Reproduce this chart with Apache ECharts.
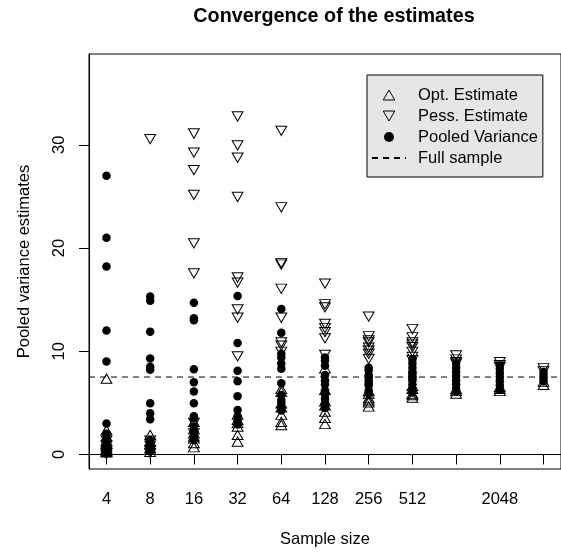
<!DOCTYPE html>
<html>
<head>
    <meta charset="utf-8">
    <script src="https://cdn.jsdelivr.net/npm/echarts@6/dist/echarts.min.js"></script>
</head>
<body style="margin: 0">
    <div id="container" style="width: 561px; height: 553px"></div>
    <script>
        // sample sizes (x axis is log2 of these)
        var sampleSizes = [4, 8, 16, 32, 64, 128, 256, 512, 1024, 2048, 4096];
        var tickLabels = ['4', '8', '16', '32', '64', '128', '256', '512', '', '2048', ''];

        // estimates per sample size
        var optEst = [
            [7.2, 2.2, 1.6, 1.2, 0.9, 0.6, 0.4, 0.3, 0.2, 0.1, 0.05],
            [1.75, 1.1, 0.8, 0.5, 0.3, 0.1],
            [3.0, 2.3, 1.9, 1.6, 1.4, 0.95, 0.55],
            [3.7, 3.2, 2.9, 2.55, 1.75, 1.1],
            [6.2, 5.9, 4.8, 4.4, 3.7, 3.0, 2.7],
            [8.2, 6.1, 5.0, 4.6, 4.0, 3.4, 2.8],
            [6.0, 5.75, 5.3, 5.1, 4.9, 4.5],
            [6.5, 6.2, 5.75, 5.6, 5.35],
            [6.2, 6.0, 5.75],
            [6.4, 6.2, 6.0],
            [6.9, 6.6]
        ];
        var pessEst = [
            [1.5, 1.0, 0.5, 0.3, 0.2],
            [30.7, 1.5, 1.0, 0.6, 0.3],
            [31.25, 29.4, 27.7, 25.3, 20.6, 17.7, 3.2, 2.2],
            [32.9, 30.1, 28.9, 25.1, 17.3, 16.8, 14.2, 13.4, 9.65],
            [31.5, 24.1, 18.7, 18.55, 16.2, 13.4, 11.0, 10.7, 10.1],
            [16.7, 14.7, 14.4, 12.8, 12.4, 12.0, 11.4, 9.8],
            [13.5, 11.6, 11.2, 11.0, 10.5, 10.2, 9.9, 9.4],
            [12.3, 11.5, 11.0, 10.8, 10.55, 10.1, 9.6, 9.3],
            [9.75, 9.35, 9.1, 8.95],
            [9.1, 8.8, 8.6],
            [8.5, 8.2]
        ];
        var pooledVar = [
            [27.0, 21.0, 18.2, 12.0, 9.0, 3.0, 2.0, 1.7, 1.4, 1.1, 0.9, 0.7, 0.5, 0.3, 0.1],
            [15.3, 14.9, 11.9, 9.3, 8.5, 8.2, 4.95, 4.0, 3.4, 1.4, 1.0, 0.7, 0.4],
            [14.7, 13.2, 13.0, 8.25, 7.0, 6.1, 4.95, 3.7, 3.5, 2.7, 2.2, 1.8, 1.4],
            [15.35, 10.8, 8.1, 7.1, 5.65, 4.3, 3.7, 3.35, 2.9],
            [14.1, 11.8, 9.75, 9.4, 8.8, 8.3, 6.9, 5.75, 5.3, 5.0, 4.6, 4.25],
            [9.4, 9.1, 8.6, 7.7, 7.2, 6.8, 6.2, 5.8, 5.4, 4.95, 4.5],
            [8.4, 8.15, 7.7, 7.5, 7.2, 6.9, 6.7, 6.2, 5.9],
            [9.2, 8.8, 8.4, 8.0, 7.9, 7.6, 7.4, 7.2, 6.8, 6.4, 6.0],
            [8.8, 8.4, 8.0, 7.6, 7.2, 6.8, 6.4, 6.1],
            [8.65, 8.3, 7.9, 7.5, 7.1, 6.7, 6.3],
            [8.0, 7.7, 7.4, 7.1]
        ];
        var fullSample = 7.5;

        var xMin = 1.6, xMax = 12.4;

        function toPoints(groups) {
            var pts = [];
            groups.forEach(function (vals, i) {
                var x = Math.log2(sampleSizes[i]);
                vals.forEach(function (v) { pts.push([x, v]); });
            });
            return pts;
        }

        var font = 'Liberation Sans, Arial, Helvetica, sans-serif';
        var hollow = { color: 'rgba(0,0,0,0)', borderColor: '#000', borderWidth: 1, opacity: 1 };
        var upIcon = 'path://M5,0 L10,8.66 L0,8.66 Z';
        var downIcon = 'path://M0,0 L10,0 L5,8.66 Z';

        var myChart = echarts.init(document.getElementById('container'));
        var option = {
            animation: false,
            textStyle: { fontFamily: font, color: '#000' },
            title: {
                text: 'Convergence of the estimates',
                left: 329,
                textAlign: 'center',
                top: 2,
                textStyle: { fontFamily: font, fontSize: 19.8, fontWeight: 'bold', color: '#000' }
            },
            legend: {
                orient: 'vertical',
                left: 367,
                top: 75,
                padding: [10, 5, 9, 4],
                itemWidth: 34,
                itemHeight: 10,
                itemGap: 1,
                symbolKeepAspect: true,
                backgroundColor: '#e6e6e6',
                borderColor: '#000',
                borderWidth: 1,
                borderRadius: 0,
                itemStyle: { borderWidth: 1 },
                textStyle: { fontFamily: font, fontSize: 16.5, color: '#000', lineHeight: 20, padding: [0, 0, 0, 7] },
                data: [
                    { name: 'Opt. Estimate', icon: upIcon },
                    { name: 'Pess. Estimate', icon: downIcon },
                    { name: 'Pooled Variance', icon: 'circle' },
                    { name: 'Full sample', itemStyle: { opacity: 0 } }
                ]
            },
            grid: {
                left: 89, top: 54, bottom: 80, right: -8,
                show: true, borderColor: '#000', borderWidth: 1
            },
            xAxis: {
                type: 'value',
                min: xMin, max: xMax,
                name: 'Sample size',
                nameLocation: 'middle',
                nameGap: 62,
                nameTextStyle: { fontFamily: font, fontSize: 16.5, color: '#000' },
                splitLine: { show: false },
                axisLine: { show: true, lineStyle: { color: '#000', width: 1 } },
                axisTick: {
                    show: true, length: 10, lineStyle: { color: '#000' },
                    customValues: sampleSizes.map(function (s) { return Math.log2(s); })
                },
                axisLabel: {
                    fontFamily: font, fontSize: 16.5, color: '#000', margin: 22,
                    customValues: sampleSizes.map(function (s) { return Math.log2(s); }),
                    formatter: function (v) { return tickLabels[Math.round(v) - 2]; }
                }
            },
            yAxis: {
                type: 'value',
                min: -1.41, max: 38.8,
                name: 'Pooled variance estimates',
                nameLocation: 'middle',
                nameRotate: 90,
                nameGap: 56,
                nameTextStyle: { fontFamily: font, fontSize: 16.5, color: '#000' },
                splitLine: { show: false },
                axisLine: { show: true, lineStyle: { color: '#000', width: 1 } },
                axisTick: { show: true, length: 10, lineStyle: { color: '#000' }, customValues: [0, 10, 20, 30] },
                axisLabel: {
                    fontFamily: font, fontSize: 16.5, color: '#000', margin: 21, rotate: 90,
                    customValues: [0, 10, 20, 30]
                }
            },
            series: [
                {
                    name: 'Opt. Estimate', type: 'scatter',
                    symbol: upIcon, symbolSize: [10.8, 9.3], symbolOffset: [0, -1.55],
                    itemStyle: hollow,
                    data: toPoints(optEst)
                },
                {
                    name: 'Pess. Estimate', type: 'scatter',
                    symbol: downIcon, symbolSize: [10.8, 9.3], symbolOffset: [0, 1.55],
                    itemStyle: hollow,
                    data: toPoints(pessEst)
                },
                {
                    name: 'Pooled Variance', type: 'scatter',
                    symbol: 'circle', symbolSize: 8.5,
                    itemStyle: { color: '#000', opacity: 1 },
                    data: toPoints(pooledVar)
                },
                {
                    name: 'Full sample', type: 'line',
                    symbol: 'none',
                    lineStyle: { color: '#000', width: 1, type: [6, 5] },
                    itemStyle: { color: '#000' },
                    data: [[xMin, fullSample], [xMax, fullSample]]
                }
            ]
        };
        myChart.setOption(option);
    </script>
</body>
</html>
